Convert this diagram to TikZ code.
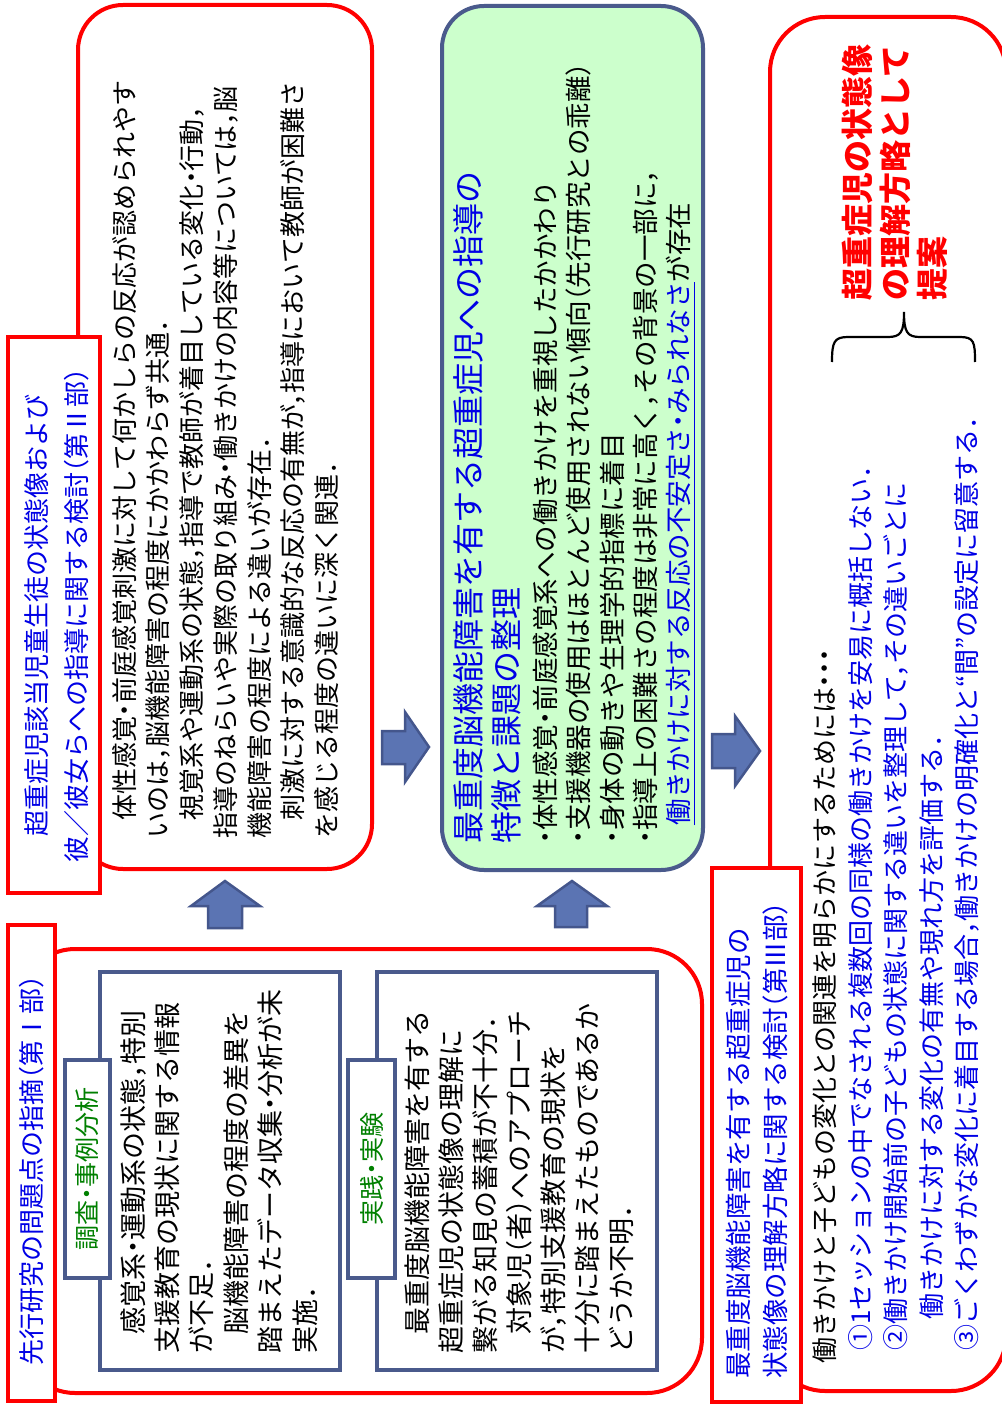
\documentclass[tikz,border=0pt]{standalone}
\usepackage{fontspec}
\setmainfont{Noto Sans CJK JP}[RawFeature=+halt]
\definecolor{tred}{HTML}{FF0000}
\definecolor{tblue}{HTML}{0000E6}
\definecolor{tgreen}{HTML}{008000}
\definecolor{gfill}{HTML}{CCFFCC}
\definecolor{navy}{HTML}{4A5A8C}
\definecolor{arrfill}{HTML}{5B74B3}
\definecolor{arrdraw}{HTML}{44568C}
\newcommand\myind{\hspace*{0.7em}}
\newcommand\fs[2]{\fontsize{#1}{#2}\selectfont}
\newcommand\myul[1]{\setbox0=\hbox{#1}\rlap{\rule[-0.24em]{\wd0}{1.4pt}}\box0}
\tikzset{
  partbox/.style={draw=tred, line width=4pt},
  labelbox/.style={draw=tred, line width=4pt, fill=white},
  subbox/.style={draw=navy, line width=3.5pt, fill=white},
  blockarr/.style={draw=arrdraw, fill=arrfill, line width=2.5pt, line join=miter},
  txt/.style={rotate=90, inner sep=0pt, align=left, anchor=north west},
  ctxt/.style={rotate=90, inner sep=0pt, align=center},
}
\begin{document}
\begin{tikzpicture}[x=1pt,y=-1pt]
\useasboundingbox (0,0) rectangle (1001,1404);

% big part boxes
\draw[partbox, rounded corners=55pt] (20,949) rectangle (702,1393);
\draw[partbox, rounded corners=45pt] (78,5) rectangle (372,869);
\draw[partbox, rounded corners=55pt] (770,17) rectangle (1006,1391);
\draw[draw=navy, line width=4pt, fill=gfill, rounded corners=42pt] (442,6) rectangle (703,870);

% label boxes
\draw[labelbox] (8,925) rectangle (55,1401);
\draw[labelbox] (8,337) rectangle (100,893);
\draw[labelbox] (712,868) rectangle (801,1402);

% sub boxes part I
\draw[subbox] (100,972) rectangle (340,1370);
\draw[subbox] (377,972) rectangle (657,1370);
\draw[subbox] (65,1060) rectangle (110,1278);
\draw[subbox] (348,1060) rectangle (395,1278);

% block arrows
\draw[blockarr] (225,881) -- (260,906) -- (242,906) -- (242,928) -- (208,928) -- (208,906) -- (191,906) -- cycle;
\draw[blockarr] (572,881) -- (607,906) -- (587,906) -- (587,927) -- (555,927) -- (555,906) -- (537,906) -- cycle;
\draw[blockarr] (429,747) -- (405,782) -- (405,764) -- (382,764) -- (382,731) -- (405,731) -- (405,712) -- cycle;
\draw[blockarr] (760,751) -- (735,786) -- (735,768) -- (712,768) -- (712,734) -- (735,734) -- (735,716) -- cycle;

% brace
\draw[line width=2.2pt] (832,362) .. controls (832,342) and (834,337) .. (848,337) -- (888,337) .. controls (901,337) and (904,332) .. (904,312) .. controls (904,332) and (907,337) .. (920,337) -- (960,337) .. controls (974,337) and (975,342) .. (975,362);

% labels
\node[ctxt, tblue, font=\fs{26}{30}] (l1t) at (32,1170) {先行研究の問題点の指摘（第Ⅰ部）};
\node[ctxt, tblue, font=\fs{26}{40}] (l2t) at (57,615) {超重症児該当児童生徒の状態像および\\彼／彼女らへの指導に関する検討（第Ⅱ部）};
\node[txt, tblue, font=\fs{26.5}{37}] (l3t) at (726,1379) {最重度脳機能障害を有する超重症児の\\状態像の理解方略に関する検討（第Ⅲ部）};

% tabs
\node[ctxt, tgreen, font=\fs{25}{30}] (tat) at (87.5,1169) {調査・事例分析};
\node[ctxt, tgreen, font=\fs{25}{30}] (tbt) at (371.5,1169) {実践・実験};

% part I texts
\node[txt, font=\fs{27}{34.4}] (at) at (120,1354) {\myind 感覚系・運動系の状態，特別\\支援教育の現状に関する情報\\が不足．\\\myind 脳機能障害の程度の差異を\\踏まえたデータ収集・分析が未\\実施．};
\node[txt, font=\fs{27}{34}] (bt) at (405,1354) {\myind 最重度脳機能障害を有する\\超重症児の状態像の理解に\\繋がる知見の蓄積が不十分．\\\myind 対象児（者）へのアプローチ\\が，特別支援教育の現状を\\十分に踏まえたものであるか\\どうか不明．};

% part II text
\node[txt, font=\fs{26}{33.7}] (p2t) at (112,839) {\myind 体性感覚・前庭感覚刺激に対して何かしらの反応が認められやす\\いのは，脳機能障害の程度にかかわらず共通．\\\myind 視覚系や運動系の状態，指導で教師が着目している変化・行動，\\指導のねらいや実際の取り組み・働きかけの内容等については，脳\\機能障害の程度による違いが存在．\\\myind 刺激に対する意識的な反応の有無が，指導において教師が困難さ\\を感じる程度の違いに深く関連．};

% green box texts
\node[txt, tblue, font=\fs{32}{38}] (gt) at (453,844) {最重度脳機能障害を有する超重症児への指導の\\特徴と課題の整理};
\node[txt, font=\fs{26.5}{33.3}] (gb) at (533,844) {・体性感覚・前庭感覚系への働きかけを重視したかかわり\\・支援機器の使用はほとんど使用されない傾向（先行研究との乖離）\\・身体の動きや生理学的指標に着目\\・指導上の困難さの程度は非常に高く，その背景の一部に，\\\myind\textcolor{tblue}{\myul{働きかけに対する反応の不安定さ・みられなさ}}が存在};

% part III texts
\node[txt, font=\fs{26}{35.5}] (p3a) at (812,1364) {働きかけと子どもの変化との関連を明らかにするためには・・・};
\node[txt, tblue, font=\fs{26}{35.5}] (p3b) at (848,1351) {①1セッションの中でなされる複数回の同様の働きかけを安易に概括しない．\\②働きかけ開始前の子どもの状態に関する違いを整理して，その違いごとに\\\hspace*{1.2em}働きかけに対する変化の有無や現れ方を評価する．\\③ごくわずかな変化に着目する場合，働きかけの明確化と“間”の設定に留意する．};
\node[txt, tred, font=\bfseries\fs{32}{37.5}] (rt) at (842,301) {超重症児の状態像\\の理解方略として\\提案};

\end{tikzpicture}
\end{document}
